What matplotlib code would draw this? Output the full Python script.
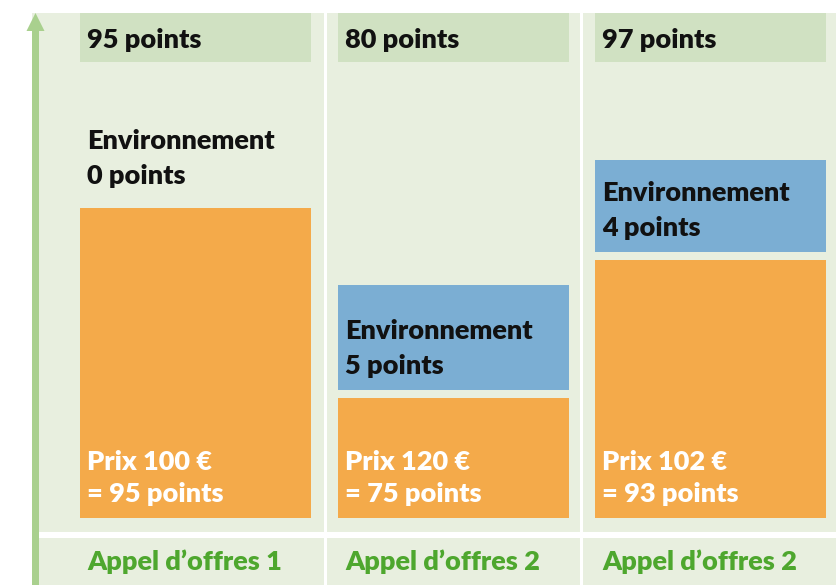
import matplotlib
matplotlib.use("Agg")
import matplotlib.pyplot as plt
from matplotlib.patches import Rectangle, FancyArrow

# ─── Data ───────────────────────────────────────────────────────────────────────
tenders       = ["Appel d’offres 1", "Appel d’offres 2", "Appel d’offres 2"]
total_points  = [95, 80, 97]
price_eur     = [100, 120, 102]
price_points  = [95, 75, 93]
env_points    = [0, 5, 4]
# schematic bar heights (drawing units, not to scale with points)
price_heights = [310, 120, 258]
env_heights   = [0, 105, 92]

# ─── Style ──────────────────────────────────────────────────────────────────────
BG      = "#E8EFDF"
HEADER  = "#D0E1C2"
ORANGE  = "#F4AA4A"
BLUE    = "#7BAED3"
GREEN   = "#4EA72E"
ARROW   = "#A9D08E"
FONT    = "Lato"
WEIGHT  = "heavy"

W, H = 837, 585
fig = plt.figure(figsize=(W / 100, H / 100), dpi=100)
ax = fig.add_axes([0, 0, 1, 1])
ax.set_xlim(0, W)
ax.set_ylim(H, 0)
ax.axis("off")

# background panel
ax.add_patch(Rectangle((32, 13), W - 32, H - 13, color=BG, lw=0, zorder=0))
# white separators
for sx in (324, 580):
    ax.add_patch(Rectangle((sx, 13), 3, H - 13, color="white", lw=0, zorder=1))
ax.add_patch(Rectangle((39, 532), W - 39, 6, color="white", lw=0, zorder=1))

# vertical arrow
ax.add_patch(FancyArrow(35.5, H, 0, -(H - 13), width=7, head_width=18,
                        head_length=18, length_includes_head=True,
                        color=ARROW, lw=0, zorder=2))

col_left  = [80, 338, 595]
col_width = 231
baseline  = 518
gap       = 8
fs        = 19.5


def label(x, y, s, color):
    ax.text(x, y, s, fontsize=fs, fontweight=WEIGHT, family=FONT,
            color=color, va="center", ha="left", zorder=3)


for i in range(len(tenders)):
    x0 = col_left[i]
    # header box
    ax.add_patch(Rectangle((x0, 13), col_width, 49, color=HEADER, lw=0, zorder=2))
    label(x0 + 7, 40, f"{total_points[i]} points", "#111111")

    # price bar
    ax.bar(x0, -price_heights[i], bottom=baseline, width=col_width, align="edge",
           color=ORANGE, lw=0, zorder=2)
    label(x0 + 7, baseline - 56, f"Prix {price_eur[i]} €", "white")
    label(x0 + 7, baseline - 24, f"= {price_points[i]} points", "white")

    # environment bar
    env_bottom = baseline - price_heights[i] - gap
    if env_heights[i] > 0:
        ax.bar(x0, -env_heights[i], bottom=env_bottom, width=col_width, align="edge",
               color=BLUE, lw=0, zorder=2)
    label(x0 + 7, env_bottom - 59, "Environnement", "#111111")
    label(x0 + 7, env_bottom - 24, f"{env_points[i]} points", "#111111")

    # tender label
    label(x0 + 7, 562, tenders[i], GREEN)

fig.savefig("out.png", dpi=100, facecolor="white")
